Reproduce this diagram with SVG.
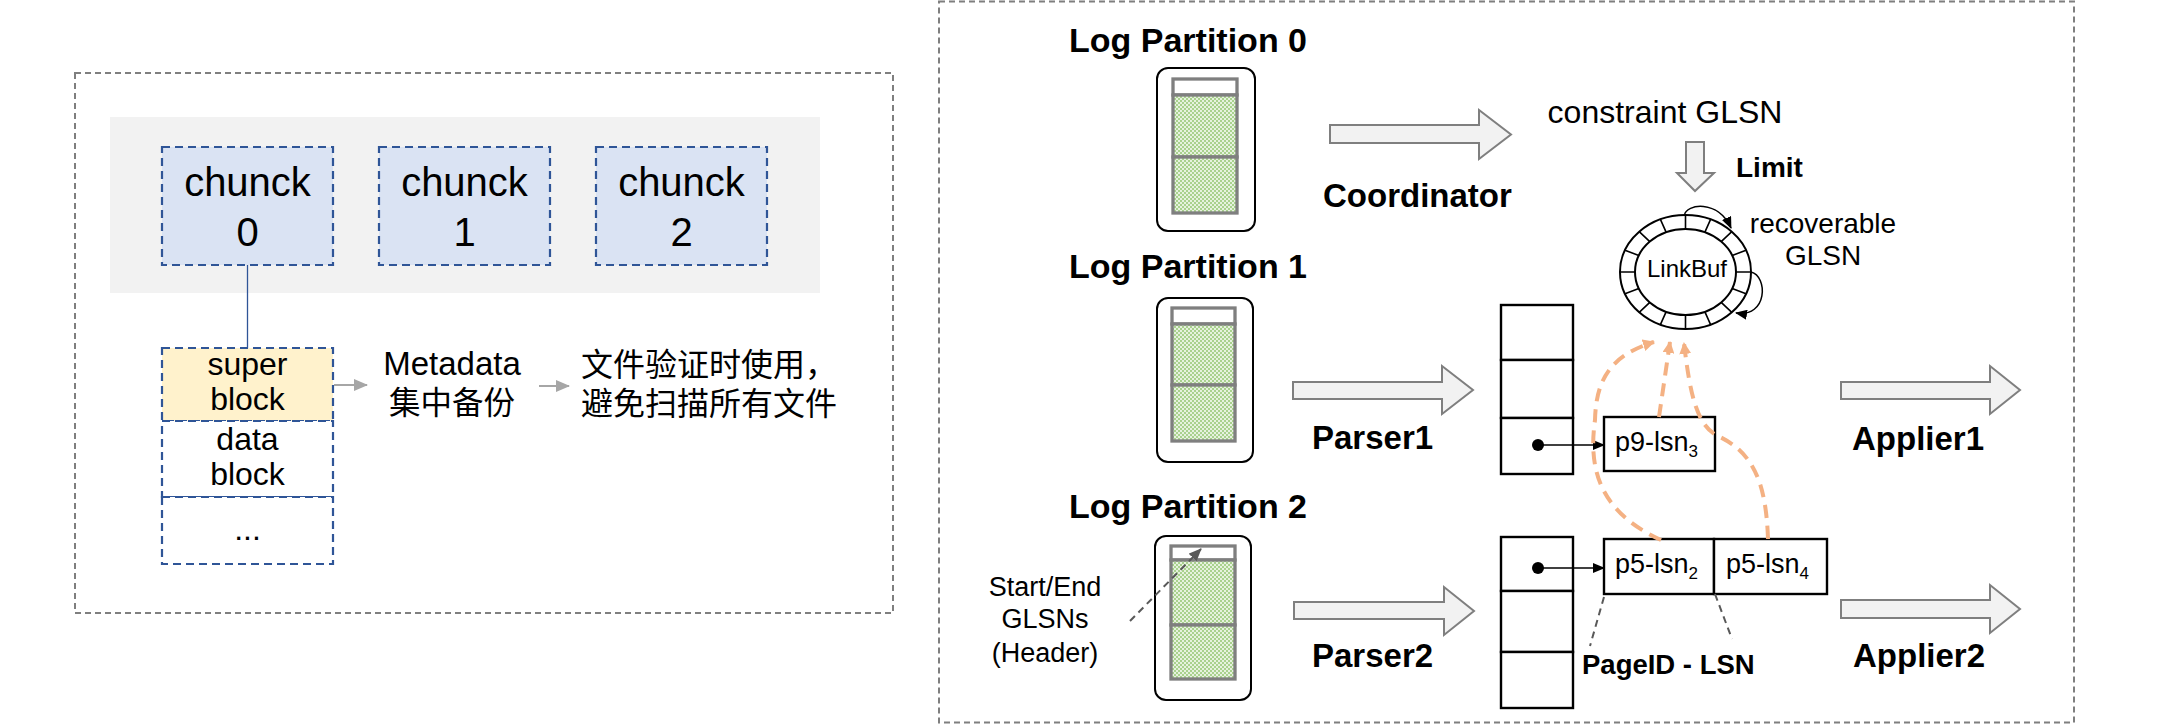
<svg xmlns="http://www.w3.org/2000/svg" width="2175" height="727" viewBox="0 0 2175 727">
<style>
.frame{fill:none;stroke:#7f7f7f;stroke-width:2;stroke-dasharray:6 4}
.chunk{fill:#dae3f3;stroke:#2f5597;stroke-width:2.2;stroke-dasharray:8 5}
.blk{stroke:#2f5597;stroke-width:2.2;stroke-dasharray:8 5}
.t{font-family:"Liberation Sans",Arial,"Noto Sans CJK SC",sans-serif;fill:#000}
.b{font-family:"Liberation Sans",Arial,sans-serif;font-weight:bold;fill:#000}
.cjk{font-family:"Noto Sans CJK SC","Liberation Sans",sans-serif;fill:#000}
.lpo{fill:#fff;stroke:#000;stroke-width:2}
.lpi{stroke:#7f7f7f;stroke-width:3.3}
.barrow{fill:#f2f2f2;stroke:#7f7f7f;stroke-width:2;stroke-linejoin:miter}
.cell{fill:#fff;stroke:#000;stroke-width:2.4}
.orange{fill:none;stroke:#f4b183;stroke-width:4;stroke-dasharray:13 8}
.gdash{fill:none;stroke:#595959;stroke-width:2;stroke-dasharray:7 5}
.thin{fill:none;stroke:#000;stroke-width:1.5}
</style>
<defs>
<pattern id="chk" width="4" height="4" patternUnits="userSpaceOnUse">
<rect width="4" height="4" fill="#e6f2de"/>
<rect width="2" height="2" fill="#a9d18e"/>
<rect x="2" y="2" width="2" height="2" fill="#a9d18e"/>
</pattern>
<marker id="mBlack" markerUnits="userSpaceOnUse" markerWidth="12" markerHeight="10" refX="11" refY="5" orient="auto"><path d="M0,0 L12,5 L0,10 Z" fill="#000"/></marker>
<marker id="mOrange" markerUnits="userSpaceOnUse" markerWidth="12" markerHeight="12" refX="11" refY="6" orient="auto"><path d="M0,0 L12,6 L0,12 Z" fill="#f4b183"/></marker>
<marker id="mDark" markerUnits="userSpaceOnUse" markerWidth="13" markerHeight="11" refX="12" refY="5.5" orient="auto"><path d="M0,0 L13,5.5 L0,11 Z" fill="#595959"/></marker>
<marker id="mLight" markerUnits="userSpaceOnUse" markerWidth="14" markerHeight="12" refX="13" refY="6" orient="auto"><path d="M0,0 L14,6 L0,12 Z" fill="#a6a6a6"/></marker>
</defs>
<rect width="2175" height="727" fill="#fff"/>

<!-- Left panel -->
<g id="left-panel">
<rect class="frame" x="75" y="73" width="818" height="540"/>
<rect x="110" y="117" width="710" height="176" fill="#f2f2f2"/>
</g>
<g id="chunk0">
<rect class="chunk" x="162" y="147" width="171" height="118"/>
<text class="t" x="247.5" y="196" font-size="40" text-anchor="middle">chunck</text>
<text class="t" x="247.5" y="246" font-size="40" text-anchor="middle">0</text>
</g>
<g id="chunk1">
<rect class="chunk" x="379" y="147" width="171" height="118"/>
<text class="t" x="464.5" y="196" font-size="40" text-anchor="middle">chunck</text>
<text class="t" x="464.5" y="246" font-size="40" text-anchor="middle">1</text>
</g>
<g id="chunk2">
<rect class="chunk" x="596" y="147" width="171" height="118"/>
<text class="t" x="681.5" y="196" font-size="40" text-anchor="middle">chunck</text>
<text class="t" x="681.5" y="246" font-size="40" text-anchor="middle">2</text>
</g>
<g id="super-block">
<rect class="blk" x="162" y="348" width="171" height="73" fill="#fff2cc"/>
<text class="t" x="247.5" y="375" font-size="32" text-anchor="middle">super</text>
<text class="t" x="247.5" y="410" font-size="32" text-anchor="middle">block</text>
</g>
<g id="data-block">
<rect class="blk" x="162" y="421" width="171" height="76" fill="#fff"/>
<text class="t" x="247.5" y="450" font-size="32" text-anchor="middle">data</text>
<text class="t" x="247.5" y="485" font-size="32" text-anchor="middle">block</text>
</g>
<g id="more-blocks">
<rect class="blk" x="162" y="497" width="171" height="67" fill="#fff"/>
<text class="t" x="247.5" y="540" font-size="32" text-anchor="middle">...</text>
</g>
<g id="metadata">
<text class="t" x="452" y="375" font-size="33" text-anchor="middle">Metadata</text>
<text class="cjk" x="452" y="414" font-size="31.5" text-anchor="middle">集中备份</text>
</g>
<g id="verify-note">
<text class="cjk" x="581" y="376" font-size="32">文件验证时使用，</text>
<text class="cjk" x="581" y="415" font-size="32">避免扫描所有文件</text>
</g>

<!-- Right panel -->
<g id="right-panel">
<rect class="frame" x="939" y="1.5" width="1135" height="721"/>
</g>
<g id="log-partition-0">
<text class="b" x="1188" y="52" font-size="34" text-anchor="middle">Log Partition 0</text>
<rect class="lpo" x="1157" y="68" width="98" height="163" rx="11"/>
<rect class="lpi" x="1173" y="79" width="64" height="16" fill="#fff"/>
<rect class="lpi" x="1173" y="95" width="64" height="62" fill="url(#chk)"/>
<rect class="lpi" x="1173" y="157" width="64" height="56" fill="url(#chk)"/>
</g>
<g id="log-partition-1">
<text class="b" x="1188" y="278" font-size="34" text-anchor="middle">Log Partition 1</text>
<rect class="lpo" x="1157" y="298" width="96" height="164" rx="11"/>
<rect class="lpi" x="1172" y="308" width="63" height="16" fill="#fff"/>
<rect class="lpi" x="1172" y="324" width="63" height="61" fill="url(#chk)"/>
<rect class="lpi" x="1172" y="385" width="63" height="56" fill="url(#chk)"/>
</g>
<g id="log-partition-2">
<text class="b" x="1188" y="518" font-size="34" text-anchor="middle">Log Partition 2</text>
<rect class="lpo" x="1155" y="536" width="96" height="164" rx="11"/>
<rect class="lpi" x="1171" y="546" width="64" height="14" fill="#fff"/>
<rect class="lpi" x="1171" y="560" width="64" height="65" fill="url(#chk)"/>
<rect class="lpi" x="1171" y="625" width="64" height="54" fill="url(#chk)"/>
</g>
<g id="header-note">
<text class="t" x="1045" y="596" font-size="27" text-anchor="middle">Start/End</text>
<text class="t" x="1045" y="628" font-size="27" text-anchor="middle">GLSNs</text>
<text class="t" x="1045" y="662" font-size="27" text-anchor="middle">(Header)</text>
</g>
<g id="coordinator">
<path class="barrow" d="M1330,125 H1479 V110 L1511,134.5 L1479,159 V143 H1330 Z"/>
<text class="b" x="1323" y="207" font-size="33">Coordinator</text>
</g>
<g id="parser1">
<path class="barrow" d="M1293,382 H1442 V366 L1473,390 L1442,414 V399 H1293 Z"/>
<text class="b" x="1312" y="449" font-size="33">Parser1</text>
</g>
<g id="parser2">
<path class="barrow" d="M1294,602 H1444 V587 L1474,611 L1444,635 V619 H1294 Z"/>
<text class="b" x="1312" y="667" font-size="33">Parser2</text>
</g>
<g id="applier1">
<path class="barrow" d="M1841,382 H1990 V366 L2020,390 L1990,414 V399 H1841 Z"/>
<text class="b" x="1852" y="450" font-size="33">Applier1</text>
</g>
<g id="applier2">
<path class="barrow" d="M1841,600 H1990 V585 L2020,609 L1990,633 V618 H1841 Z"/>
<text class="b" x="1853" y="667" font-size="33">Applier2</text>
</g>
<g id="constraint">
<text class="t" x="1665" y="123" font-size="32" text-anchor="middle">constraint GLSN</text>
<path class="barrow" d="M1686,142 H1704 V173 H1714 L1695,191 L1677,173 H1686 Z"/>
<text class="b" x="1736" y="177" font-size="28">Limit</text>
</g>
<g id="linkbuf">
<ellipse cx="1685.5" cy="272" rx="65.5" ry="57" fill="#fff" stroke="#000" stroke-width="2"/>
<ellipse cx="1685.5" cy="272" rx="50.5" ry="43" fill="#fff" stroke="#000" stroke-width="2"/>
<path stroke="#000" stroke-width="1.6" fill="none" d="M1736,272 L1751,272 M1732.2,288.5 L1746,293.8 M1721.2,302.4 L1731.8,312.3 M1704.8,311.7 L1710.6,324.7 M1685.5,315 L1685.5,329 M1666.2,311.7 L1660.4,324.7 M1649.8,302.4 L1639.2,312.3 M1638.8,288.5 L1625,293.8 M1635,272 L1620,272 M1638.8,255.5 L1625,250.2 M1649.8,241.6 L1639.2,231.7 M1666.2,232.3 L1660.4,219.3 M1685.5,229 L1685.5,215 M1704.8,232.3 L1710.6,219.3 M1721.2,241.6 L1731.8,231.7 M1732.2,255.5 L1746,250.2"/>
<text class="t" x="1687" y="277" font-size="24" text-anchor="middle">LinkBuf</text>
<path class="thin" d="M1684.5,215 C1686,204 1718,199 1731,228" marker-end="url(#mBlack)"/>
<path class="thin" d="M1751,272 C1768,276 1768,318 1736,313" marker-end="url(#mBlack)"/>
<text class="t" x="1823" y="233" font-size="28" text-anchor="middle">recoverable</text>
<text class="t" x="1823" y="265" font-size="28" text-anchor="middle">GLSN</text>
</g>
<g id="buffer1">
<rect class="cell" x="1501" y="305" width="72" height="55"/>
<rect class="cell" x="1501" y="360" width="72" height="58"/>
<rect class="cell" x="1501" y="418" width="72" height="56"/>
<circle cx="1538" cy="445" r="6" fill="#000"/>
</g>
<g id="buffer2">
<rect class="cell" x="1501" y="537" width="72" height="54"/>
<rect class="cell" x="1501" y="591" width="72" height="61"/>
<rect class="cell" x="1501" y="652" width="72" height="56"/>
<circle cx="1538" cy="568" r="6" fill="#000"/>
</g>
<g id="p9-lsn3">
<rect class="cell" x="1604" y="417" width="111" height="54"/>
<text class="t" x="1615" y="451" font-size="27">p9-lsn<tspan font-size="17" dy="6">3</tspan></text>
</g>
<g id="p5-lsn2">
<rect class="cell" x="1604" y="539" width="110" height="55"/>
<text class="t" x="1615" y="573" font-size="27">p5-lsn<tspan font-size="17" dy="6">2</tspan></text>
</g>
<g id="p5-lsn4">
<rect class="cell" x="1714" y="539" width="113" height="55"/>
<text class="t" x="1726" y="573" font-size="27">p5-lsn<tspan font-size="17" dy="6">4</tspan></text>
</g>
<g id="pageid-label">
<text class="b" x="1582" y="674" font-size="27.5">PageID - LSN</text>
</g>

<g id="connectors">
<line x1="247.5" y1="265" x2="247.5" y2="348" stroke="#2f5597" stroke-width="1.3"/>
<line x1="334" y1="385" x2="367" y2="385" stroke="#a6a6a6" stroke-width="2" marker-end="url(#mLight)"/>
<line x1="539" y1="386" x2="569" y2="386" stroke="#a6a6a6" stroke-width="2" marker-end="url(#mLight)"/>
<path class="gdash" d="M1130,621 L1201,549" marker-end="url(#mDark)"/>
<line x1="1538" y1="445" x2="1604" y2="445" stroke="#000" stroke-width="1.5" marker-end="url(#mBlack)"/>
<line x1="1538" y1="568" x2="1604" y2="568" stroke="#000" stroke-width="1.5" marker-end="url(#mBlack)"/>
<path class="gdash" d="M1604,597 L1590,646"/>
<path class="gdash" d="M1715,594 L1732,639"/>
<path class="orange" d="M1661,540 C1600,512 1588,470 1595,420 C1596,378 1612,355 1654,342" marker-end="url(#mOrange)"/>
<path class="orange" d="M1659,417 L1670,342" marker-end="url(#mOrange)"/>
<path class="orange" d="M1768,539 C1766,480 1752,452 1718,436 C1697,426 1690,395 1684,343" marker-end="url(#mOrange)"/>
</g>
</svg>
